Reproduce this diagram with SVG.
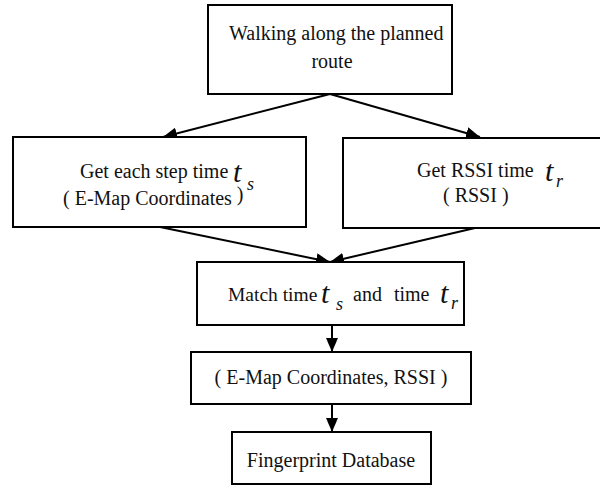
<svg xmlns="http://www.w3.org/2000/svg" width="600" height="486" viewBox="0 0 600 486">
  <style>
    .box { fill: #fff; stroke: #000; stroke-width: 2; }
    .lbl { font-family: 'Liberation Serif', 'Times New Roman', serif; font-size: 20px; fill: #111; }
    .it { font-style: italic; }
    .big { font-size: 30px; }
    .sub { font-size: 18px; }
    .edge { fill: none; stroke: #000; stroke-width: 2; marker-end: url(#arrow); }
  </style>
  <defs>
    <marker id="arrow" markerUnits="userSpaceOnUse" markerWidth="14" markerHeight="12" viewBox="0 0 14 12" refX="14" refY="6" orient="auto">
      <path d="M0,0 L14,6 L0,12 Z" fill="#000"/>
    </marker>
  </defs>
  <rect width="600" height="486" fill="#fff"/>

  <g id="connectors">
    <line class="edge" x1="330" y1="94" x2="163" y2="137"/>
    <line class="edge" x1="330" y1="94" x2="480" y2="137"/>
    <line class="edge" x1="160" y1="227" x2="330" y2="262"/>
    <line class="edge" x1="475" y1="228" x2="330" y2="262"/>
    <line class="edge" x1="332" y1="325" x2="332" y2="352"/>
    <line class="edge" x1="332" y1="404" x2="332" y2="432"/>
  </g>

  <g id="walk">
    <rect class="box" x="208" y="5" width="244" height="89"/>
    <text class="lbl" x="229" y="40">Walking along the planned</text>
    <text class="lbl" x="332" y="68" text-anchor="middle">route</text>
  </g>

  <g id="step-time">
    <rect class="box" x="13" y="137" width="293" height="90"/>
    <text class="lbl" x="80" y="178">Get each step time</text>
    <text class="lbl it big" x="233" y="182">t</text>
    <text class="lbl it sub" x="247" y="190">s</text>
    <text class="lbl" x="63" y="205">( E-Map Coordinates <tspan dy="-4">)</tspan></text>
  </g>

  <g id="rssi-time">
    <rect class="box" x="343" y="138" width="260" height="90"/>
    <text class="lbl" x="417" y="177">Get RSSI time</text>
    <text class="lbl it big" x="545" y="181">t</text>
    <text class="lbl it sub" x="556" y="187">r</text>
    <text class="lbl" x="443" y="202">( RSSI )</text>
  </g>

  <g id="match">
    <rect class="box" x="197" y="262" width="267" height="63"/>
    <text class="lbl" x="228" y="301" style="font-size:19.5px">Match time</text>
    <text class="lbl it big" x="321" y="303">t</text>
    <text class="lbl it sub" x="336" y="310">s</text>
    <text class="lbl" x="353" y="301" word-spacing="7">and time</text>
    <text class="lbl it big" x="440" y="303">t</text>
    <text class="lbl it sub" x="451" y="309">r</text>
  </g>

  <g id="pair">
    <rect class="box" x="191" y="352" width="280" height="52"/>
    <text class="lbl" x="331" y="384" text-anchor="middle">( E-Map Coordinates, RSSI )</text>
  </g>

  <g id="database">
    <rect class="box" x="232" y="432" width="199" height="52"/>
    <text class="lbl" x="331" y="467" text-anchor="middle">Fingerprint Database</text>
  </g>
</svg>
